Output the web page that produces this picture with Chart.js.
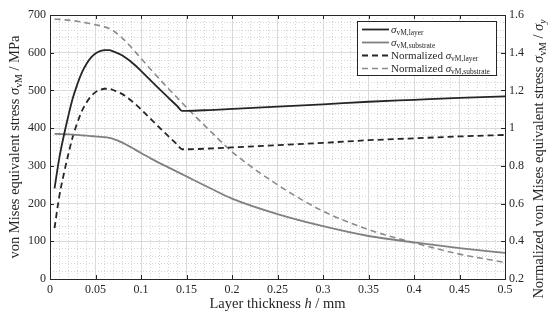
<!DOCTYPE html>
<html><head><meta charset="utf-8">
<script src="https://cdn.jsdelivr.net/npm/chart.js@4.4.1/dist/chart.umd.min.js"></script>
<style>html,body{margin:0;padding:0;background:#fff}#wrap{width:550px;height:321px}</style>
</head><body><div id="wrap"><canvas id="c" width="550" height="321"></canvas></div>
<script>
// ---- data ----
const thickness = [0.005,0.01,0.015,0.02,0.025,0.03,0.035,0.04,0.045,0.05,0.055,0.06,0.065,0.07,0.08,0.09,0.1,0.11,0.12,0.13,0.14,0.145,0.15,0.175,0.2,0.25,0.3,0.35,0.4,0.45,0.5];
const sigmaLayer = [240,318,378,431,479,516,547,570,587,598,604,607,607,603,592,574,552,528,504,481,458,446,446,448,451,457,463,470,475,480,484];
const sigmaSubstrate = [385,384.5,384,383.5,383,382,381,380,379,378,377,376,374,371,361,348,334,321,308,296,284,278,272,242,213,172,140,114,97,82,69];
const normLayer = [0.47,0.633,0.753,0.859,0.954,1.028,1.09,1.135,1.169,1.191,1.203,1.209,1.209,1.201,1.179,1.143,1.1,1.052,1.004,0.958,0.912,0.888,0.888,0.892,0.898,0.91,0.922,0.936,0.946,0.956,0.964];
const normSubstrate = [1.578,1.577,1.575,1.573,1.57,1.567,1.563,1.558,1.553,1.548,1.543,1.537,1.528,1.515,1.475,1.425,1.37,1.315,1.262,1.21,1.16,1.135,1.11,0.99,0.875,0.70,0.56,0.462,0.392,0.332,0.288];
const xTicks = [0,0.05,0.1,0.15,0.2,0.25,0.3,0.35,0.4,0.45,0.5];
const leftTicks = [0,100,200,300,400,500,600,700];
const rightTicks = [0.2,0.4,0.6,0.8,1,1.2,1.4,1.6];
const seriesNames = ["σvM,layer","σvM,substrate","Normalized σvM,layer","Normalized σvM,substrate"];

// ---- rendering ----
const FAM = "'Liberation Serif', serif";
const DARK = '#262626';
const GRAY = '#808080';
function pts(ys){ return thickness.map((x,i)=>({x:x,y:ys[i]})); }
function setTicks(arr){ return function(s){ s.ticks = arr.map(v=>({value:v})); }; }
function fmt(v){ return String(Number(v.toFixed(3))); }

function segsFor(name){
  const i = name.indexOf('σ');
  const segs = [];
  if (i>0) segs.push({t:name.slice(0,i)});
  segs.push({t:'σ', it:true});
  segs.push({t:name.slice(i+1), sub:true});
  return segs;
}
function fontFor(s,size){ const sz = s.sub ? size*0.68 : size; return (s.it?'italic ':'') + sz.toFixed(2) + 'px ' + FAM; }
function richWidth(ctx,segs,size){ let w=0; for(const s of segs){ctx.font=fontFor(s,size); w+=ctx.measureText(s.t).width;} return w; }
function drawRich(ctx,segs,x,y,size,align){
  const w = richWidth(ctx,segs,size);
  let cx = align==='center' ? x-w/2 : x;
  ctx.textBaseline='alphabetic'; ctx.textAlign='left';
  for(const s of segs){ ctx.font=fontFor(s,size); ctx.fillText(s.t,cx,y+(s.sub?size*0.22:0)); cx+=ctx.measureText(s.t).width; }
}

const decor = {
  id:'decor',
  afterDraw(chart){
    const ctx = chart.ctx, a = chart.chartArea;
    const sx = chart.scales.x, sy = chart.scales.y, sy1 = chart.scales.y1;
    ctx.save();
    ctx.strokeStyle = DARK; ctx.lineWidth = 1;
    ctx.beginPath();
    for(const t of sx.ticks){ const p=Math.round(sx.getPixelForValue(t.value))+0.5; ctx.moveTo(p,a.bottom); ctx.lineTo(p,a.bottom-4); ctx.moveTo(p,a.top); ctx.lineTo(p,a.top+4); }
    for(const t of sy.ticks){ const p=Math.round(sy.getPixelForValue(t.value))+0.5; ctx.moveTo(a.left,p); ctx.lineTo(a.left+4,p); }
    for(const t of sy1.ticks){ const p=Math.round(sy1.getPixelForValue(t.value))+0.5; ctx.moveTo(a.right,p); ctx.lineTo(a.right-4,p); }
    ctx.stroke();
    ctx.strokeRect(Math.round(a.left)+0.5, Math.round(a.top)+0.5, Math.round(a.right-a.left), Math.round(a.bottom-a.top));
    ctx.fillStyle = DARK;
    const TS = 14.5;
    drawRich(ctx,[{t:'Layer thickness '},{t:'h',it:true},{t:' / mm'}], (a.left+a.right)/2, 308, TS, 'center');
    ctx.save(); ctx.translate(19,(a.top+a.bottom)/2); ctx.rotate(-Math.PI/2);
    drawRich(ctx,[{t:'von Mises equivalent stress '},{t:'σ',it:true},{t:'vM',sub:true},{t:' / MPa'}],0,0,TS,'center');
    ctx.restore();
    ctx.save(); ctx.translate(543,159); ctx.rotate(-Math.PI/2);
    drawRich(ctx,[{t:'Normalized von Mises equivalent stress '},{t:'σ',it:true},{t:'vM',sub:true},{t:' / '},{t:'σ',it:true},{t:'y',sub:true,it:true}],0,0,TS,'center');
    ctx.restore();
    const L = {x:357.5, y:21.5, w:139, h:54};
    ctx.fillStyle='#fff'; ctx.fillRect(L.x,L.y,L.w,L.h);
    ctx.strokeStyle=DARK; ctx.lineWidth=1; ctx.strokeRect(L.x,L.y,L.w,L.h);
    chart.data.datasets.forEach((ds,i)=>{
      const yy = 29.5 + i*13;
      ctx.save(); ctx.strokeStyle=ds.borderColor; ctx.lineWidth=ds.borderWidth; ctx.setLineDash(ds.borderDash||[]);
      ctx.beginPath(); ctx.moveTo(362,yy); ctx.lineTo(389,yy); ctx.stroke(); ctx.restore();
      ctx.fillStyle=DARK;
      drawRich(ctx,segsFor(ds.label),391,yy+3.5,11,'left');
    });
    ctx.restore();
  }
};

const tickFont = {family:FAM, size:12};
new Chart(document.getElementById('c'),{
  type:'line',
  data:{datasets:[
    {label:seriesNames[0], data:pts(sigmaLayer), yAxisID:'y', borderColor:DARK, borderWidth:1.8, pointRadius:0, cubicInterpolationMode:'monotone'},
    {label:seriesNames[1], data:pts(sigmaSubstrate), yAxisID:'y', borderColor:GRAY, borderWidth:1.8, pointRadius:0, cubicInterpolationMode:'monotone'},
    {label:seriesNames[2], data:pts(normLayer), yAxisID:'y1', borderColor:DARK, borderWidth:1.8, borderDash:[6,4], pointRadius:0, cubicInterpolationMode:'monotone'},
    {label:seriesNames[3], data:pts(normSubstrate), yAxisID:'y1', borderColor:'#8c8c8c', borderWidth:1.6, borderDash:[6,4], pointRadius:0, cubicInterpolationMode:'monotone'}
  ]},
  options:{
    responsive:false, animation:false, devicePixelRatio:1,
    layout:{padding:{top:15,left:0,right:0,bottom:0}},
    plugins:{legend:{display:false}, tooltip:{enabled:false}},
    scales:{
      xm:{type:'linear', position:'bottom', min:0, max:0.5, ticks:{display:false, stepSize:0.01}, border:{display:false, dash:[1,2]},
          grid:{color:'#d4d4d4', lineWidth:1, drawTicks:false, z:-2}, afterFit(s){s.height=0;}},
      ym:{type:'linear', position:'left', min:0, max:700, ticks:{display:false, stepSize:20}, border:{display:false, dash:[1,2]},
          grid:{color:'#d4d4d4', lineWidth:1, drawTicks:false, z:-2}, afterFit(s){s.width=0;}},
      x:{type:'linear', position:'bottom', min:0, max:0.5, afterBuildTicks:setTicks(xTicks),
         ticks:{font:tickFont, color:DARK, padding:4, maxRotation:0, callback:v=>fmt(v)},
         border:{display:false}, grid:{color:'#dadada', lineWidth:1, drawTicks:false, z:-1}, afterFit(s){s.height=42;}},
      y:{type:'linear', position:'left', min:0, max:700, afterBuildTicks:setTicks(leftTicks),
         ticks:{font:tickFont, color:DARK, padding:4, callback:v=>fmt(v)},
         border:{display:false}, grid:{color:'#dadada', lineWidth:1, drawTicks:false, z:-1}, afterFit(s){s.width=50;}},
      y1:{type:'linear', position:'right', min:0.2, max:1.6, afterBuildTicks:setTicks(rightTicks),
         ticks:{font:tickFont, color:DARK, padding:4, callback:v=>fmt(v)},
         border:{display:false}, grid:{display:false, drawTicks:false}, afterFit(s){s.width=45;}}
    }
  },
  plugins:[decor]
});
</script></body></html>
